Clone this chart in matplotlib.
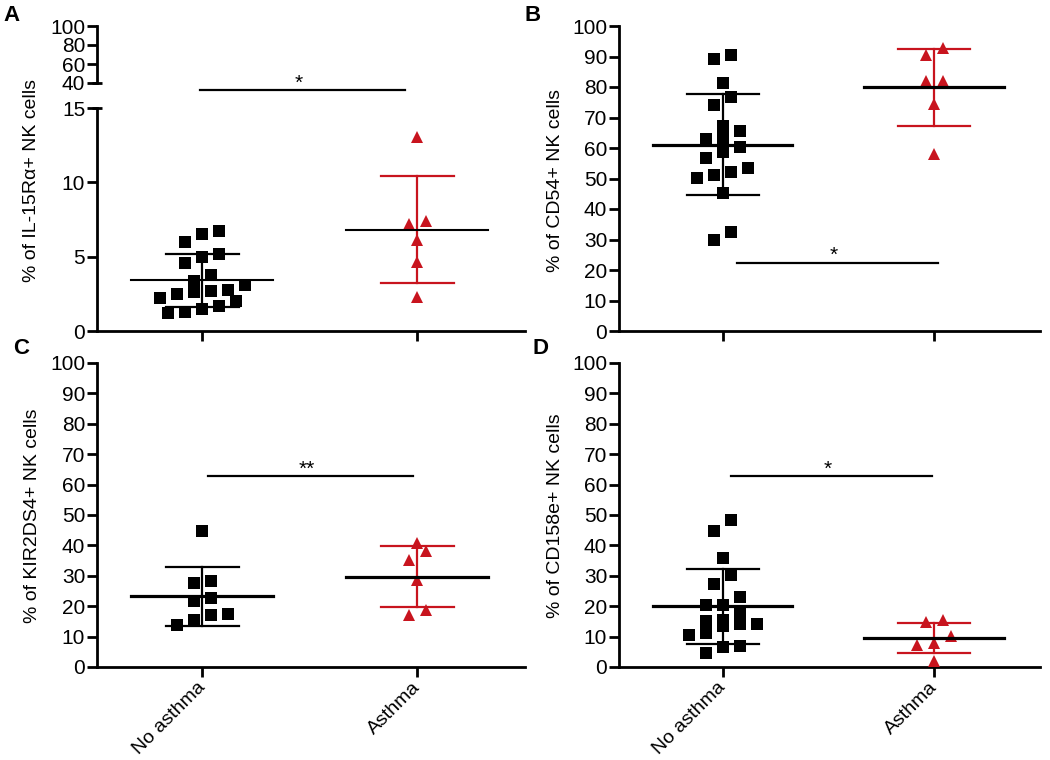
import numpy as np
import matplotlib
matplotlib.use("Agg")
from matplotlib import pyplot as plt

plt.rcParams['font.family'] = ['Liberation Sans', 'DejaVu Sans']

RED = '#C8141E'

# groups
groups = ["No asthma", "Asthma"]

# Panel A: % of IL-15Ra+ NK cells
a_no = [6.51, 6.76, 5.97, 5.19, 5.01, 4.56, 3.37, 3.77, 2.76, 2.60,
        2.49, 2.69, 2.25, 3.10, 2.02, 1.48, 1.19, 1.26, 1.71]
a_yes = [13.05, 7.43, 7.21, 6.13, 4.67, 2.31]

# Panel B: % of CD54+ NK cells
b_no = [90.5, 89.2, 81.4, 76.8, 74.0, 67.3, 65.6, 63.0, 63.4, 58.6,
        60.3, 56.7, 53.6, 50.1, 51.1, 52.2, 45.1, 32.6, 29.8]
b_yes = [92.7, 90.5, 82.1, 82.1, 74.3, 58.0]

# Panel C: % of KIR2DS4+ NK cells
c_no = [44.7, 28.4, 27.7, 22.6, 21.8, 17.0, 17.5, 15.5, 13.7]
c_yes = [40.9, 38.0, 35.2, 28.7, 17.0, 18.8]

# Panel D: % of CD158e+ NK cells
d_no = [48.4, 44.6, 35.7, 30.1, 27.2, 22.9, 20.5, 20.5, 17.9, 15.2,
        14.0, 15.5, 14.3, 13.6, 11.2, 10.6, 6.8, 6.5, 4.6]
d_yes = [14.8, 15.3, 10.1, 7.9, 7.1, 1.9]

ylabels = ["% of IL-15R\u03b1+ NK cells", "% of CD54+ NK cells",
           "% of KIR2DS4+ NK cells", "% of CD158e+ NK cells"]
sig_text = ["*", "*", "**", "*"]
# significance bar: y of bar and x extent
sig_y = [16.2, 22.4, 62.9, 62.9]
sig_x = [(-0.01, 0.944), (0.066, 1.02), (0.028, 0.98), (0.04, 0.99)]


def scatter_cols(ax, x0, values, row_h=13.0, gap=17.0):
    # prism-like column scatter: bin values into rows, spread each row
    vals = np.asarray(values, float)
    tr = ax.transData
    ys = tr.transform(np.column_stack([np.full(len(vals), x0), vals]))[:, 1]
    px_unit = tr.transform((1, 0))[0] - tr.transform((0, 0))[0]
    order = np.argsort(vals)
    rows, cur, start = [], [], None
    for i in order:
        if start is None or ys[i] - start >= row_h:
            if cur:
                rows.append(cur)
            cur, start = [i], ys[i]
        else:
            cur.append(i)
    rows.append(cur)
    offs = np.zeros(len(vals))
    for r in rows:
        n = len(r)
        for j, i in enumerate(r):
            offs[i] = (j - (n - 1) / 2) * gap
    return x0 + offs / px_unit


def style_axis(ax, show_x=True):
    for s in ['top', 'right']:
        ax.spines[s].set_visible(False)
    for s in ['left', 'bottom']:
        ax.spines[s].set_linewidth(2.0)
    ax.tick_params(axis='both', direction='out', length=7, width=2.0,
                   labelsize=15, pad=1.5)
    ax.set_xlim(-0.49, 1.5)
    ax.set_xticks([0, 1])
    if not show_x:
        ax.set_xticklabels([])


def draw_group(ax, x0, vals, col, marker, ms, mean_lw):
    xs = scatter_cols(ax, x0, vals)
    ax.plot(xs, vals, linestyle='none', marker=marker, color=col,
            markersize=ms, markeredgewidth=0, clip_on=False, zorder=3)
    m = np.mean(vals)
    sd = np.std(vals, ddof=1)
    ax.plot([x0, x0], [m - sd, m + sd], color=col, lw=1.6, zorder=4)
    for yv in (m - sd, m + sd):
        ax.plot([x0 - 0.17, x0 + 0.17], [yv, yv], color=col, lw=1.6, zorder=4)
    ax.plot([x0 - 0.33, x0 + 0.33], [m, m], color='black', lw=mean_lw, zorder=5)


fig = plt.figure(figsize=(10.5, 7.6), dpi=100)

L1, L2 = 97 / 1050, 619 / 1050
W1, W2 = 428 / 1050, 421 / 1050

# panel A, broken axis
axA = fig.add_axes([L1, 1 - 331 / 760, W1, (331 - 108) / 760])
axA_up = fig.add_axes([L1, 1 - 83 / 760, W1, (83 - 26) / 760])
axB = fig.add_axes([L2, 1 - 331 / 760, W2, (331 - 26) / 760])
axC = fig.add_axes([L1, 1 - 667 / 760, W1, (667 - 363) / 760])
axD = fig.add_axes([L2, 1 - 667 / 760, W2, (667 - 363) / 760])

style_axis(axA, show_x=False)
axA.set_ylim(0, 15)
axA.set_yticks([0, 5, 10, 15])

style_axis(axA_up)
axA_up.set_ylim(40, 100)
axA_up.set_yticks([40, 60, 80, 100])
axA_up.spines['bottom'].set_visible(False)
axA_up.set_xticks([])
axA_up.patch.set_visible(False)

# break caps
axA.plot([-0.012, 0.012], [1, 1], transform=axA.transAxes, color='black',
         lw=2.0, clip_on=False, solid_capstyle='butt')
axA_up.plot([-0.012, 0.012], [0, 0], transform=axA_up.transAxes, color='black',
            lw=2.0, clip_on=False, solid_capstyle='butt')

for ax in (axB, axC, axD):
    style_axis(ax, show_x=ax in (axC, axD))
    ax.set_ylim(0, 100)
    ax.set_yticks(np.arange(0, 101, 10))

for ax in (axC, axD):
    ax.set_xticklabels(groups, rotation=45, ha='right', va='center',
                       rotation_mode='anchor', fontsize=14)
    ax.tick_params(axis='x', pad=6)
axB.set_xticklabels([])

panels = [(axA, a_no, a_yes, 1.5), (axB, b_no, b_yes, 2.3),
          (axC, c_no, c_yes, 2.3), (axD, d_no, d_yes, 2.3)]
for i, (ax, no, yes, mlw) in enumerate(panels):
    draw_group(ax, 0, no, 'black', 's', 8.6, mlw)
    draw_group(ax, 1, yes, RED, '^', 9, mlw)
    x1, x2 = sig_x[i]
    ax.plot([x1, x2], [sig_y[i], sig_y[i]], color='black', lw=1.6,
            clip_on=False, zorder=2)
    ax.annotate(sig_text[i], ((x1 + x2) / 2 - 0.02, sig_y[i]),
                xytext=(0, 1), textcoords='offset points',
                ha='center', va='baseline', fontsize=15, annotation_clip=False)

# y labels
fig.text(32 / 1050, 1 - 180 / 760, ylabels[0], rotation=90, ha='center', va='center', fontsize=14)
fig.text(555 / 1050, 1 - 180 / 760, ylabels[1], rotation=90, ha='center', va='center', fontsize=14)
fig.text(33 / 1050, 1 - 516 / 760, ylabels[2], rotation=90, ha='center', va='center', fontsize=14)
fig.text(555 / 1050, 1 - 516 / 760, ylabels[3], rotation=90, ha='center', va='center', fontsize=14)

# panel letters
for lab, x, y in [("A", 3, 5), ("B", 524, 5), ("C", 13, 338), ("D", 533, 338)]:
    fig.text(x / 1050, 1 - y / 760, lab, fontsize=16, fontweight='bold',
             ha='left', va='top')

fig.savefig("out.png", dpi=100, facecolor='white')
